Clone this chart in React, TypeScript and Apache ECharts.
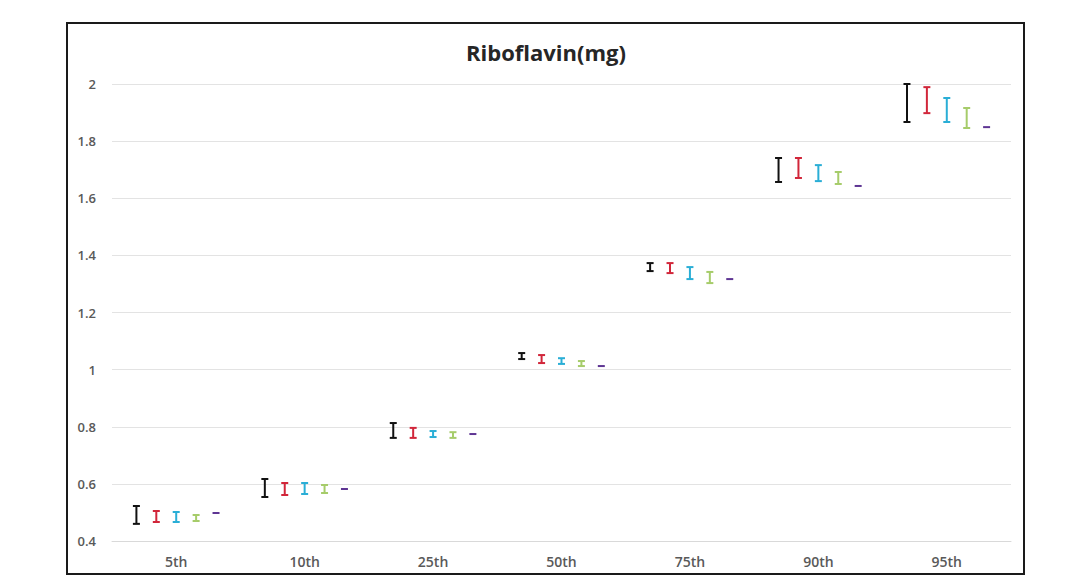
import React, { useEffect, useRef } from "react";
import * as echarts from "echarts";

const categories = ["5th", "10th", "25th", "50th", "75th", "90th", "95th"];
const yTicks = [0.4, 0.6, 0.8, 1, 1.2, 1.4, 1.6, 1.8, 2];

const s1Low = [0.46, 0.554, 0.761, 1.037, 1.345, 1.657, 1.867];
const s1High = [0.5225, 0.617, 0.813, 1.058, 1.373, 1.741, 2.0];
const s2Low = [0.4665, 0.561, 0.761, 1.023, 1.338, 1.671, 1.898];
const s2High = [0.505, 0.603, 0.796, 1.051, 1.373, 1.741, 1.989];
const s3Low = [0.4665, 0.5645, 0.764, 1.02, 1.317, 1.66, 1.867];
const s3High = [0.5015, 0.603, 0.785, 1.04, 1.359, 1.716, 1.951];
const s4Low = [0.47, 0.568, 0.761, 1.0125, 1.303, 1.65, 1.846];
const s4High = [0.491, 0.596, 0.781, 1.03, 1.342, 1.692, 1.916];
const s5Low = [0.498, 0.582, 0.7745, 1.0125, 1.317, 1.643, 1.849];
const s5High = [0.498, 0.582, 0.7745, 1.0125, 1.317, 1.643, 1.849];

const seriesNames = ["Series 1", "Series 2", "Series 3", "Series 4", "Series 5"];
const seriesColors = ["#111111", "#d1263a", "#2aaed6", "#a6cc6a", "#5e3593"];
const lows = [s1Low, s2Low, s3Low, s4Low, s5Low];
const highs = [s1High, s2High, s3High, s4High, s5High];

export default function App() {
  const ref = useRef<HTMLDivElement>(null);
  useEffect(() => {
    if (!ref.current) return;
    const chart = echarts.init(ref.current, undefined, { renderer: "svg" });
    const series = seriesNames.map((name, si) => ({
      type: "custom",
      name,
      data: categories.map((_, ci) => [ci, lows[si][ci], highs[si][ci]]),
      renderItem: (params: any, api: any) => {
        const ci = api.value(0);
        const lo = api.coord([ci, api.value(1)]);
        const hi = api.coord([ci, api.value(2)]);
        const band = api.size([1, 0])[0];
        const x = lo[0] + (si - 2) * band * 0.155;
        const half = 3.5;
        const style = { stroke: seriesColors[si], lineWidth: 2 };
        const y1 = hi[1];
        const y2 = lo[1];
        if (Math.abs(y2 - y1) < 1) {
          return {
            type: "line",
            shape: { x1: x - half, y1: y1, x2: x + half, y2: y1 },
            style,
          };
        }
        return {
          type: "group",
          children: [
            { type: "line", shape: { x1: x, y1, x2: x, y2 }, style },
            { type: "line", shape: { x1: x - half, y1, x2: x + half, y2: y1 }, style },
            { type: "line", shape: { x1: x - half, y1: y2, x2: x + half, y2 }, style },
          ],
        };
      },
    }));
    chart.setOption({
      animation: false,
      backgroundColor: "#ffffff",
      title: {
        text: "Riboflavin(mg)",
        left: 541,
        textAlign: "center",
        top: 36,
        textStyle: {
          fontFamily: "Open Sans",
          fontSize: 22,
          fontWeight: "bold",
          color: "#262626",
        },
      },
      grid: { left: 112, right: 57, top: 84, bottom: 34 },
      xAxis: {
        type: "category",
        data: categories,
        axisLine: { lineStyle: { color: "#d9d9d9", width: 1 } },
        axisTick: { show: false },
        axisLabel: {
          fontFamily: "Open Sans",
          fontSize: 14,
          fontWeight: 600,
          color: "#595959",
          margin: 13,
        },
      },
      yAxis: {
        type: "value",
        min: yTicks[0],
        max: yTicks[yTicks.length - 1],
        interval: 0.2,
        axisLine: { show: false },
        axisTick: { show: false },
        splitLine: { lineStyle: { color: "#e3e3e3", width: 1 } },
        axisLabel: {
          fontFamily: "Open Sans",
          fontSize: 13,
          fontWeight: 600,
          color: "#595959",
          margin: 16,
          formatter: (v: number) => String(Math.round(v * 10) / 10),
        },
      },
      graphic: [
        {
          type: "rect",
          shape: { x: 67, y: 23, width: 957, height: 551 },
          style: { fill: "none", stroke: "#1a1a1a", lineWidth: 2 },
          silent: true,
        },
      ],
      series,
    });
    return () => chart.dispose();
  }, []);
  return (
    <div
      ref={ref}
      style={{ position: "absolute", left: 0, top: 0, width: 1068, height: 575 }}
    />
  );
}
